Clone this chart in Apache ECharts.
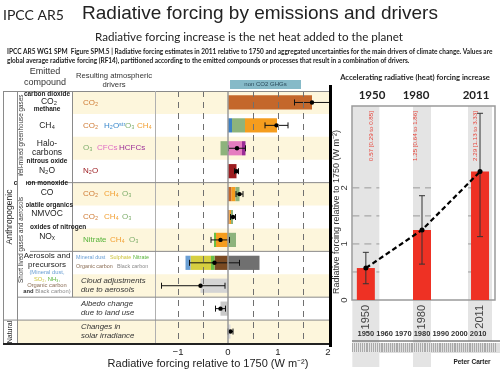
<!DOCTYPE html>
<html>
<head>
<meta charset="utf-8">
<script src="https://cdn.jsdelivr.net/npm/echarts@6/dist/echarts.min.js"></script>
<style>
  html, body { margin: 0; padding: 0; background: #fff; }
  #chart { width: 500px; height: 375px; }
</style>
</head>
<body>
<div id="chart"></div>
<script>
// rows of the left panel, top to bottom
const rowNames = ['CO2', 'CH4', 'Halocarbons', 'N2O', 'CO', 'NMVOC', 'NOx', 'Aerosols', 'Cloud', 'Albedo', 'Solar'];
// best estimate and uncertainty range (W m-2)
const rfBest = [1.68, 0.97, 0.18, 0.17, 0.23, 0.10, -0.15, -0.27, -0.55, -0.15, 0.05];
const rfLow = [1.33, 0.74, 0.01, 0.13, 0.16, 0.05, -0.34, -0.77, -1.33, -0.25, 0.00];
const rfHigh = [2.03, 1.20, 0.35, 0.21, 0.30, 0.15, 0.03, 0.23, -0.06, -0.05, 0.10];

// contributions per emitted compound, stacked outward from zero
const co2Parts = [['CO₂', 1.68]];
const ch4Parts = [['H₂O', 0.08], ['O₃', 0.26], ['CH₄', 0.64]];
const haloParts = [['O₃', -0.15], ['CFCs', 0.28], ['HCFCs', 0.07]];
const n2oParts = [['N₂O', 0.17]];
const coParts = [['CO₂', 0.07], ['CH₄', 0.08], ['O₃', 0.08]];
const nmvocParts = [['CO₂', 0.03], ['CH₄', 0.03], ['O₃', 0.04]];
const noxParts = [['CH₄', -0.24], ['Nitrate', -0.04], ['O₃', 0.16]];
const aerosolParts = [['Organic carbon', -0.27], ['Nitrate', -0.07], ['Sulphate', -0.41], ['Mineral dust', -0.10], ['Black carbon', 0.63]];
const cloudParts = [['Cloud', -0.55]];
const albedoParts = [['Albedo', -0.15]];
const solarParts = [['Solar', 0.05]];

// right panel: total anthropogenic forcing
const years = [1950, 1980, 2011];
const totalRF = [0.57, 1.25, 2.29];
const totalLow = [0.29, 0.64, 1.13];
const totalHigh = [0.85, 1.86, 3.33];
const decadeLabels = [1950, 1960, 1970, 1980, 1990, 2000, 2010];
const leftTicks = [-1, 0, 1, 2];
const rightTicks = [0, 1, 2];

const SANS = 'Liberation Sans, Arial, sans-serif';
const CAL = 'Lato, sans-serif';

const partColor = {
  'CO₂': '#c4672b', 'H₂O': '#3b7fc4', 'O₃': '#8db37c', 'CH₄': '#f59d1e',
  'CFCs': '#e57cc0', 'HCFCs': '#9a2c96', 'N₂O': '#9c1c20', 'Nitrate': '#6abf45',
  'Mineral dust': '#6a9fd4', 'Sulphate': '#d6cf40', 'Organic carbon': '#7a4a22',
  'Black carbon': '#707070', 'Cloud': '#d4d4d4', 'Albedo': '#c9c9c9', 'Solar': '#d9d9d9'
};
const tc = {
  co2: '#cf7a33', ch4: '#f2a033', o3: '#7fae6c', h2o: '#3a88cc', cfc: '#e06cc4',
  hcfc: '#9d2f98', n2o: '#9c1c20', nitrate: '#58b43a', dust: '#6a9fd4',
  sulph: '#cdc43a', oc: '#8a6d55', bc: '#8a8a8a'
};

const allParts = [co2Parts, ch4Parts, haloParts, n2oParts, coParts, nmvocParts,
  noxParts, aerosolParts, cloudParts, albedoParts, solarParts];
const segments = [];
allParts.forEach((parts, i) => {
  let pos = 0, neg = 0;
  parts.forEach(([name, v]) => {
    if (v >= 0) { segments.push({ name, value: [i, pos, pos + v] }); pos += v; }
    else { segments.push({ name, value: [i, neg, neg + v] }); neg += v; }
  });
});

// table layout
const TOP = 91, BOTTOM = 343;
const ROW_H = (BOTTOM - TOP) / rowNames.length;
const rc = k => TOP + ROW_H * (k + 0.5);
const edge = k => TOP + ROW_H * k;

function T(x, y, text, o = {}) {
  const el = {
    type: 'text', x, y, z: o.z || 60, rotation: o.rot || 0,
    style: {
      text, fontSize: o.size || 8, fontFamily: o.font || SANS,
      fontWeight: o.bold ? 'bold' : 'normal', fontStyle: o.italic ? 'italic' : 'normal',
      fill: o.color || '#222', align: o.align || 'left', verticalAlign: 'middle'
    }
  };
  if (o.rich) el.style.rich = o.rich;
  return el;
}
function L(x1, y1, x2, y2, color, w, z) {
  return { type: 'line', z: z || 50, shape: { x1, y1, x2, y2 }, style: { stroke: color || '#8a8a8a', lineWidth: w || 1 } };
}
const R90 = Math.PI / 2;

const graphics = [
  // headings
  T(3, 15, 'IPCC AR5', { size: 14, font: CAL }),
  T(260, 14, 'Radiative forcing by emissions and drivers', { size: 19, align: 'center' }),
  T(249, 37, 'Radiative forcing increase is the net heat added to the planet', { size: 11.6, font: CAL, align: 'center' }),
  T(7, 52, 'IPCC AR5 WG1 SPM  Figure SPM.5 | Radiative forcing estimates in 2011 relative to 1750 and aggregated uncertainties for the main drivers of climate change. Values are', { size: 6.5, font: CAL, bold: true }),
  T(7, 61, 'global average radiative forcing (RF14), partitioned according to the emitted compounds or processes that result in a combination of drivers.', { size: 6.5, font: CAL, bold: true }),
  T(45, 72, 'Emitted', { size: 9, align: 'center', color: '#333' }),
  T(45, 83, 'compound', { size: 9, align: 'center', color: '#333' }),
  T(114, 76, 'Resulting atmospheric', { size: 7.7, align: 'center', color: '#333' }),
  T(114, 85, 'drivers', { size: 7.7, align: 'center', color: '#333' }),
  { type: 'rect', z: 50, shape: { x: 230, y: 80, width: 71, height: 9 }, style: { fill: '#86bac8' } },
  T(265.5, 84.7, 'non CO2 GHGs', { size: 6, align: 'center', color: '#2a4a5a', z: 51 }),

  // table rules
  L(3.5, 91.5, 330, 91.5),
  L(3.5, 91, 3.5, BOTTOM),
  L(17.5, 91, 17.5, BOTTOM, '#8a8a8a', 1, 63),
  L(72.5, 91, 72.5, edge(9)),
  L(155.5, 91, 155.5, BOTTOM, '#b0b0b0'),
  L(17.5, edge(4), 330, edge(4)),
  L(30, edge(7), 330, edge(7)),
  L(17.5, edge(9), 330, edge(9)),
  L(3.5, edge(10), 330, edge(10)),
  L(3, 344, 330, 344, '#222', 2),
  L(330.5, 85, 330.5, 347, '#000', 3),

  // section labels
  T(10, 217, 'Anthropogenic', { rot: R90, size: 8.5, align: 'center' }),
  T(10, 332, 'Natural', { rot: R90, size: 7, align: 'center' }),
  T(21.5, 137, 'Well-mixed greenhouse gases', { rot: R90, size: 6.3, align: 'center', color: '#333' }),
  { type: 'rect', z: 61, shape: { x: 18, y: 176, width: 8, height: 56 }, style: { fill: '#fff' } },
  T(21.5, 240, 'Short lived gases and aerosols', { rot: R90, size: 6.3, align: 'center', color: '#333', z: 62 }),

  // emitted compounds
  T(47, rc(0) - 8.5, 'carbon dioxide', { size: 6.5, bold: true, align: 'center' }),
  T(49, rc(0) - 0.5, 'CO₂', { size: 8.5, align: 'center' }),
  T(47, rc(1) - 16, 'methane', { size: 6.5, bold: true, align: 'center' }),
  T(47, rc(1), 'CH₄', { size: 8.5, align: 'center' }),
  T(47, rc(2) - 5, 'Halo-', { size: 8.5, align: 'center' }),
  T(47, rc(2) + 4, 'carbons', { size: 8.5, align: 'center' }),
  T(47, rc(3) - 10, 'nitrous oxide', { size: 6.5, bold: true, align: 'center' }),
  T(47, rc(3) - 1, 'N₂O', { size: 8.5, align: 'center' }),
  T(68, rc(4) - 11, 'carbon monoxide', { size: 6.5, bold: true, align: 'right' }),
  T(47, rc(4) - 1.5, 'CO', { size: 8.5, align: 'center' }),
  T(73, rc(5) - 12, 'volatile organics', { size: 6.5, bold: true, align: 'right' }),
  T(47, rc(5) - 3, 'NMVOC', { size: 8.5, align: 'center' }),
  T(30, rc(6) - 12.5, 'oxides of nitrogen', { size: 6.5, bold: true }),
  T(47, rc(6) - 3, 'NOₓ', { size: 8.5, align: 'center' }),
  T(47, 256, 'Aerosols and', { size: 8, align: 'center' }),
  T(47, 265, 'precursors', { size: 8, align: 'center' }),
  T(47, 272.5, '(Mineral dust,', { size: 5.8, align: 'center', color: tc.dust }),
  T(47, 279, '{s|SO₂,} {n|NH₃,}', { size: 5.8, align: 'center', rich: { s: { fill: tc.sulph, fontSize: 5.8 }, n: { fill: tc.nitrate, fontSize: 5.8 } } }),
  T(47, 285, 'Organic carbon', { size: 5.8, align: 'center', color: tc.oc }),
  T(47, 291, '{a|and} {b|Black carbon)}', { size: 5.8, align: 'center', rich: { a: { fill: '#333', fontWeight: 'bold', fontSize: 5.8 }, b: { fill: tc.bc, fontSize: 5.8 } } }),

  // resulting drivers
  T(83, rc(0), 'CO₂', { color: tc.co2 }),
  T(83, rc(1), 'CO₂', { color: tc.co2 }), T(104, rc(1), 'H₂Oˢᵗʳ', { color: tc.h2o }),
  T(125, rc(1), 'O₃', { color: tc.o3 }), T(137, rc(1), 'CH₄', { color: tc.ch4 }),
  T(83, rc(2), 'O₃', { color: tc.o3 }), T(97, rc(2), 'CFCs', { color: tc.cfc }),
  T(119, rc(2), 'HCFCs', { color: tc.hcfc }),
  T(83, rc(3), 'N₂O', { color: tc.n2o }),
  T(83, rc(4), 'CO₂', { color: tc.co2 }), T(104, rc(4), 'CH₄', { color: tc.ch4 }), T(122, rc(4), 'O₃', { color: tc.o3 }),
  T(83, rc(5), 'CO₂', { color: tc.co2 }), T(104, rc(5), 'CH₄', { color: tc.ch4 }), T(122, rc(5), 'O₃', { color: tc.o3 }),
  T(83, rc(6), 'Nitrate', { color: tc.nitrate }), T(110, rc(6), 'CH₄', { color: tc.ch4 }), T(129, rc(6), 'O₃', { color: tc.o3 }),
  T(76, rc(7) - 5, 'Mineral dust', { size: 5.4, color: tc.dust }),
  T(110, rc(7) - 5, 'Sulphate', { size: 5.4, color: tc.sulph }),
  T(133, rc(7) - 5, 'Nitrate', { size: 5.4, color: tc.nitrate }),
  T(76, rc(7) + 4, 'Organic carbon', { size: 5.4, color: tc.oc }),
  T(117, rc(7) + 4, 'Black carbon', { size: 5.4, color: tc.bc }),
  T(81, rc(8) - 4.5, 'Cloud adjustments', { size: 7.8, italic: true, color: '#333' }),
  T(81, rc(8) + 4.5, 'due to aerosols', { size: 7.8, italic: true, color: '#333' }),
  T(81, rc(9) - 4.5, 'Albedo change', { size: 7.8, italic: true, color: '#333' }),
  T(81, rc(9) + 4.5, 'due to land use', { size: 7.8, italic: true, color: '#333' }),
  T(81, rc(10) - 4.5, 'Changes in', { size: 7.8, italic: true, color: '#333' }),
  T(81, rc(10) + 4.5, 'solar irradiance', { size: 7.8, italic: true, color: '#333' }),
  T(208, 364, 'Radiative forcing relative to 1750 (W m⁻²)', { size: 11, align: 'center' }),

  // right panel texts
  T(415, 78, 'Accelerating radiative (heat) forcing increase', { size: 7.6, font: CAL, bold: true, align: 'center' }),
  T(337, 212, 'Radiative forcing relative to 1750 (W m⁻²)', { rot: R90, size: 9, align: 'center', color: '#333' }),
  { type: 'rect', z: -5, shape: { x: 362, y: 343, width: 138, height: 10 }, style: { fill: '#dedede' } },
  L(352, 341, 500, 341, '#808080', 1.5),
  T(472, 362, 'Peter Carter', { size: 6.5, bold: true, align: 'center' })
];
const headerX = [372, 416, 476];
years.forEach((y, i) => {
  graphics.push(T(headerX[i], 95, String(y), { size: 11.5, font: CAL, bold: true, align: 'center' }));
  const t = totalRF[i].toFixed(2) + ' [' + totalLow[i].toFixed(2) + ' to ' + totalHigh[i].toFixed(2) + ']';
  graphics.push(T(headerX[i] - 1, 136, t, { rot: R90, size: 6.2, align: 'center', color: '#e8443a', z: 20 }));
});

const colWidth = [27, 18, 24];
const colBottom = [367, 367, 341];
const rulerYears = [];
for (let y = 1943; y <= 2019; y++) rulerYears.push(y);

const option = {
  animation: false,
  grid: [
    { left: 72, right: 170, top: TOP, bottom: 375 - BOTTOM },
    { left: 352, right: 5, top: 106, bottom: 75, show: true, borderColor: '#9a9a9a', borderWidth: 1.5 }
  ],
  xAxis: [
    {
      gridIndex: 0, type: 'value', min: -3.12, max: 2.04,
      splitLine: { show: false }, axisLine: { show: false }, axisTick: { show: false },
      axisLabel: { customValues: leftTicks, formatter: v => (v < 0 ? '−' + Math.abs(v) : String(v)), fontSize: 9.5, color: '#222', margin: 4, fontFamily: SANS }
    },
    {
      gridIndex: 1, type: 'value', min: 1942.6, max: 2019,
      splitLine: { show: false }, axisLine: { show: false }, axisTick: { show: false },
      axisLabel: { customValues: years, formatter: v => String(v), rotate: 90, fontSize: 11, color: '#444', margin: 5, fontFamily: SANS }
    },
    {
      gridIndex: 1, type: 'value', min: 1942.6, max: 2019, position: 'bottom', offset: 28,
      splitLine: { show: false }, axisLine: { show: false }, axisTick: { show: false },
      axisLabel: { customValues: decadeLabels, formatter: v => String(v), hideOverlap: false, fontSize: 7.5, fontWeight: 'bold', color: '#333', margin: 2, fontFamily: SANS }
    },
    {
      gridIndex: 1, type: 'value', min: 1942.6, max: 2019, position: 'bottom', offset: 43,
      splitLine: { show: false }, axisLine: { show: false }, axisLabel: { show: false },
      axisTick: { show: true, customValues: rulerYears, length: 9, lineStyle: { color: '#aaa', width: 1 } }
    }
  ],
  yAxis: [
    { gridIndex: 0, type: 'category', inverse: true, data: rowNames, show: false },
    {
      gridIndex: 1, type: 'value', min: 0, max: 3.46,
      splitLine: { show: false }, axisLine: { show: false }, axisTick: { show: false },
      axisLabel: { customValues: rightTicks, rotate: 90, fontSize: 9.5, color: '#333', margin: 3, fontFamily: SANS }
    }
  ],
  graphic: { elements: graphics },
  series: [
    {
      // shaded table rows
      type: 'custom', xAxisIndex: 0, yAxisIndex: 0, z: 0, clip: false, silent: true,
      data: rowNames.map((n, i) => [i, 0]).filter(d => d[0] % 2 === 0),
      encode: { y: 0, x: 1 },
      renderItem(params, api) {
        const idx = api.value(0);
        const c = api.coord([0, idx]);
        const h = api.size([0, 1])[1];
        const cs = params.coordSys;
        const x0 = rowNames[idx] === 'Solar' ? 17.5 : cs.x;
        return { type: 'rect', shape: { x: x0, y: c[1] - h / 2, width: cs.x + cs.width - x0, height: h }, style: { fill: '#fdf6dc' } };
      },
      markLine: {
        silent: true, symbol: 'none', label: { show: false },
        data: [
          { xAxis: -1 }, { xAxis: -0.5 }, { xAxis: 0.5 }, { xAxis: 1 }, { xAxis: 1.5 },
          { xAxis: 0, lineStyle: { type: 'solid', color: '#9a9a9a', width: 1.5 } }
        ],
        lineStyle: { type: [6, 5], color: '#707070', width: 1 }
      }
    },
    {
      // stacked contributions
      type: 'custom', xAxisIndex: 0, yAxisIndex: 0, z: 3,
      data: segments,
      encode: { y: 0, x: [1, 2] },
      renderItem(params, api) {
        const idx = api.value(0);
        const p0 = api.coord([api.value(1), idx]);
        const p1 = api.coord([api.value(2), idx]);
        const h = api.size([0, 1])[1] * 0.62;
        return {
          type: 'rect',
          shape: { x: Math.min(p0[0], p1[0]), y: p0[1] - h / 2, width: Math.abs(p1[0] - p0[0]), height: h },
          style: { fill: partColor[segments[params.dataIndex].name] }
        };
      }
    },
    {
      // best estimate with uncertainty
      type: 'custom', xAxisIndex: 0, yAxisIndex: 0, z: 4,
      data: rfBest.map((b, i) => [i, b, rfLow[i], rfHigh[i]]),
      encode: { y: 0, x: [1, 2, 3] },
      renderItem(params, api) {
        const idx = api.value(0);
        const y = api.coord([0, idx])[1];
        const xb = api.coord([api.value(1), idx])[0];
        const xl = api.coord([api.value(2), idx])[0];
        const xh = api.coord([api.value(3), idx])[0];
        const s = { stroke: '#111', lineWidth: 1 };
        return {
          type: 'group', children: [
            { type: 'line', shape: { x1: xl, y1: y, x2: xh, y2: y }, style: s },
            { type: 'line', shape: { x1: xl, y1: y - 3, x2: xl, y2: y + 3 }, style: s },
            { type: 'line', shape: { x1: xh, y1: y - 3, x2: xh, y2: y + 3 }, style: s },
            { type: 'circle', shape: { cx: xb, cy: y, r: 2.2 }, style: { fill: '#000' } }
          ]
        };
      }
    },
    {
      // grey year columns with dashed guides, kept under the axis labels
      type: 'custom', xAxisIndex: 1, yAxisIndex: 1, z: -1, clip: false, silent: true,
      data: years.map(y => [y, 0]),
      encode: { x: 0, y: 1 },
      renderItem(params, api) {
        const i = params.dataIndex;
        const cx = api.coord([api.value(0), 0])[0];
        const cs = params.coordSys;
        const w = colWidth[i];
        const kids = [{ type: 'rect', shape: { x: cx - w / 2, y: cs.y, width: w, height: colBottom[i] - cs.y }, style: { fill: '#e4e4e4' } }];
        [0.5, 1, 1.5, 2].forEach(v => {
          const gy = api.coord([api.value(0), v])[1];
          kids.push({ type: 'line', shape: { x1: cx - w / 2, y1: gy, x2: cx + w / 2, y2: gy }, style: { stroke: '#9a9a9a', lineWidth: 1, lineDash: [7, 5] } });
        });
        return { type: 'group', children: kids };
      }
    },
    {
      type: 'bar', xAxisIndex: 1, yAxisIndex: 1, z: 2, barWidth: 18,
      data: years.map((y, i) => [y, totalRF[i]]),
      itemStyle: { color: '#ee3124' }
    },
    {
      type: 'custom', xAxisIndex: 1, yAxisIndex: 1, z: 4,
      data: years.map((y, i) => [y, totalLow[i], totalHigh[i]]),
      encode: { x: 0, y: [1, 2] },
      renderItem(params, api) {
        const lo = api.coord([api.value(0), api.value(1)]);
        const hi = api.coord([api.value(0), api.value(2)]);
        const s = { stroke: '#333', lineWidth: 1 };
        return {
          type: 'group', children: [
            { type: 'line', shape: { x1: lo[0], y1: lo[1], x2: hi[0], y2: hi[1] }, style: s },
            { type: 'line', shape: { x1: lo[0] - 3, y1: lo[1], x2: lo[0] + 3, y2: lo[1] }, style: s },
            { type: 'line', shape: { x1: hi[0] - 3, y1: hi[1], x2: hi[0] + 3, y2: hi[1] }, style: s }
          ]
        };
      }
    },
    {
      type: 'line', xAxisIndex: 1, yAxisIndex: 1, z: 5,
      data: years.map((y, i) => [y, totalRF[i]]),
      lineStyle: { color: '#000', width: 2.2, type: [5, 3] },
      symbol: 'circle', symbolSize: 5, itemStyle: { color: '#000' }
    }
  ]
};

const chart = echarts.init(document.getElementById('chart'));
chart.setOption(option);
window.addEventListener('resize', () => chart.resize());
</script>
</body>
</html>
